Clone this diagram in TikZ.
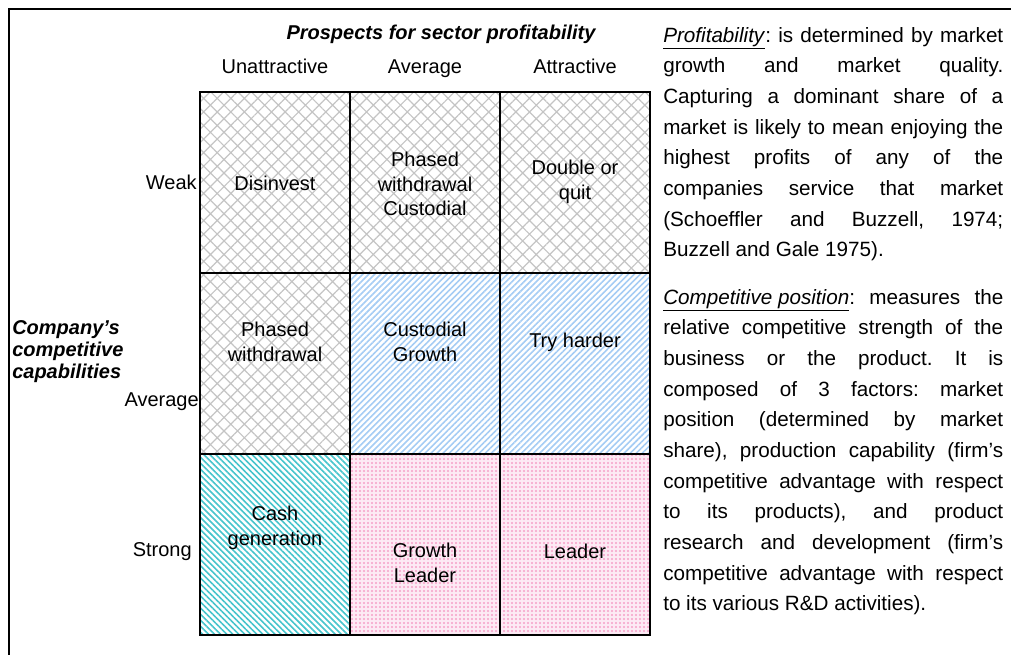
\documentclass[tikz,border=0pt]{standalone}
\usepackage{fontspec}
\setmainfont{Liberation Sans}
\usepackage{tikz}
\usetikzlibrary{positioning,patterns.meta}

\definecolor{hatchgray}{RGB}{196,196,196}
\definecolor{stripeblue}{RGB}{165,204,244}
\definecolor{stripeteal}{RGB}{70,196,204}
\definecolor{dotpink}{RGB}{246,160,200}
\definecolor{pinkbg}{RGB}{253,234,244}

\tikzset{
    cell/.style={draw, line width=1.5pt, inner sep=0pt, outer sep=0pt,
        minimum width=112.5pt, minimum height=135.75pt},
    grayCell/.style={cell, pattern={Hatch[angle=45,distance=7.2pt,line width=0.9pt]}, pattern color=hatchgray},
    blueCell/.style={cell, pattern={Lines[angle=45,distance=3.2pt,line width=1.2pt]}, pattern color=stripeblue},
    tealCell/.style={cell, pattern={Lines[angle=-45,distance=3.2pt,line width=1.2pt]}, pattern color=stripeteal},
    pinkCell/.style={cell, preaction={fill=pinkbg}, pattern={Dots[distance=3pt,radius=0.8pt]}, pattern color=dotpink},
    cellText/.style={align=center, inner sep=0pt, font=\fontsize{15}{18.4}\selectfont},
    axisTitle/.style={inner sep=0pt, font=\fontsize{15}{16.5}\selectfont\bfseries\itshape},
    bodyText/.style={inner sep=0pt, anchor=north west, text width=255pt, align=justify,
        font=\fontsize{15.5}{23}\selectfont,
        execute at begin node={\tolerance=10000\relax\hyphenpenalty=10000\relax\frenchspacing}}
}

\begin{document}
\begin{tikzpicture}[x=0.75pt,y=-0.75pt]
        \useasboundingbox (0,0) rectangle (1011,655);

        % Frame
        \coordinate (frameBL) at (9,655);
        \coordinate (frameTL) at (9,9);
        \coordinate (frameTR) at (1011,9);
        \draw[line width=1.5pt] (frameBL) -- (frameTL) -- (frameTR);

        % Cells
        \node[grayCell] (c11) at (275,182.5) {};
        \node[grayCell] (c12) at (425,182.5) {};
        \node[grayCell] (c13) at (575,182.5) {};
        \node[grayCell] (c21) at (275,364) {};
        \node[blueCell] (c22) at (425,364) {};
        \node[blueCell] (c23) at (575,364) {};
        \node[tealCell] (c31) at (275,545) {};
        \node[pinkCell] (c32) at (425,545) {};
        \node[pinkCell] (c33) at (575,545) {};

        % Cell texts
        \node[cellText] (tDisinvest) at (275,183) {Disinvest};
        \node[cellText] (tPhasedCust) at (425,184) {Phased\\withdrawal\\Custodial};
        \node[cellText] (tDouble) at (575,182) {Double or\\quit};
        \node[cellText] (tPhased) at (275,342) {Phased\\withdrawal};
        \node[cellText] (tCustGrowth) at (425,342) {Custodial\\Growth};
        \node[cellText] (tTry) at (575,342) {Try harder};
        \node[cellText] (tCash) at (275,528) {Cash\\generation};
        \node[cellText] (tGrowthLead) at (425,563) {Growth\\Leader};
        \node[cellText] (tLeader) at (575,551) {Leader};

        % Axis labels
        \node[axisTitle, anchor=base] (profTitle) at (441,40) {Prospects for sector profitability};
        \node[cellText, anchor=base] (hUnattr) at (275,74) {Unattractive};
        \node[cellText, anchor=base] (hAvg) at (425,74) {Average};
        \node[cellText, anchor=base] (hAttr) at (575,74) {Attractive};
        \node[axisTitle, anchor=west, align=left] (compTitle) at (12,352) {Company's\\competitive\\capabilities};
        \node[cellText, anchor=base east] (rWeak) at (197,190) {Weak};
        \node[cellText, anchor=base east] (rAvg) at (199,407) {Average};
        \node[cellText, anchor=base east] (rStrong) at (192,557) {Strong};

        % Notes
        \node[bodyText] (profNote) at (663,27) {\underline{\textit{Profitability}}: is determined by market\linebreak
            growth and market quality.\linebreak
            Capturing a dominant share of a\linebreak
            market is likely to mean enjoying the\linebreak
            highest profits of any of the\linebreak
            companies service that market\linebreak
            (Schoeffler and Buzzell, 1974;\linebreak
            Buzzell and Gale 1975).};
        \node[bodyText] (compNote) at (663,289) {\underline{\textit{Competitive position}}: measures the\linebreak
            relative competitive strength of the\linebreak
            business or the product. It is\linebreak
            composed of 3 factors: market\linebreak
            position (determined by market\linebreak
            share), production capability (firm’s\linebreak
            competitive advantage with respect\linebreak
            to its products), and product\linebreak
            research and development (firm’s\linebreak
            competitive advantage with respect\linebreak
            to its various R\&D activities).};
    \end{tikzpicture}
\end{document}
